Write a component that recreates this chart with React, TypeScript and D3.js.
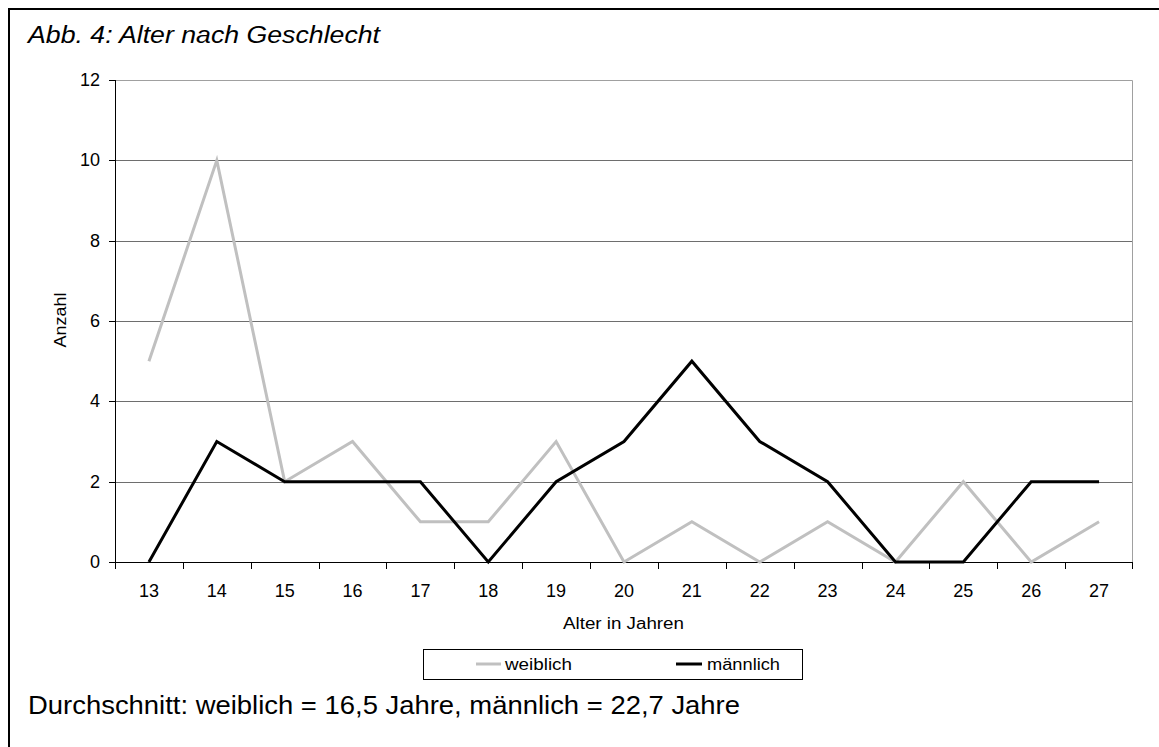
import React from "react";
import * as d3 from "d3";

const ages = ["13","14","15","16","17","18","19","20","21","22","23","24","25","26","27"];
const weiblich = [5,10,2,3,1,1,3,0,1,0,1,0,2,0,1];
const maennlich = [0,3,2,2,2,0,2,3,5,3,2,0,0,2,2];
const yTicks = [0,2,4,6,8,10,12];

const W = 1159, H = 747;
const left = 115, right = 1133, top = 80, bottom = 562;

export default function App() {
  const x = d3.scaleBand<string>().domain(ages).range([left, right]).padding(0);
  const y = d3.scaleLinear().domain([0, 12]).range([bottom, top]);
  const cx = (a: string) => (x(a) as number) + x.bandwidth() / 2;
  const line = d3.line<number>().x((_, i) => cx(ages[i])).y((d) => y(d));
  const font = "Liberation Sans, Arial, sans-serif";
  return (
    <svg width={W} height={H} style={{ position: "absolute", left: 0, top: 0 }} fontFamily={font}>
      <rect x={0} y={0} width={W} height={H} fill="#fff" />
      <path d={`M9,${H} V9 H${W}`} fill="none" stroke="#000" strokeWidth={2} />
      <text x={28} y={43} fontSize={23} fontStyle="italic" textLength={352} lengthAdjust="spacingAndGlyphs">Abb. 4: Alter nach Geschlecht</text>
      {yTicks.filter((t) => t > 0 && t < 12).map((t) => (
        <line key={t} x1={left} x2={right} y1={Math.round(y(t)) + 0.5} y2={Math.round(y(t)) + 0.5} stroke="#6e6e6e" strokeWidth={1} />
      ))}
      <path d={`M${left},${top + 0.5} H${right - 0.5} V${bottom}`} fill="none" stroke="#a0a0a0" strokeWidth={1} />
      <line x1={left + 0.5} x2={left + 0.5} y1={top} y2={bottom} stroke="#000" />
      {yTicks.map((t) => (
        <g key={t}>
          <line x1={left - 6} x2={left} y1={Math.round(y(t)) + 0.5} y2={Math.round(y(t)) + 0.5} stroke="#000" />
          <text x={100} y={y(t) + 6} fontSize={18} textAnchor="end">{t}</text>
        </g>
      ))}
      <line x1={left} x2={right} y1={bottom + 0.5} y2={bottom + 0.5} stroke="#000" />
      {ages.map((a) => (
        <line key={"t" + a} x1={Math.round(x(a) as number) + 0.5} x2={Math.round(x(a) as number) + 0.5} y1={bottom} y2={bottom + 7} stroke="#000" />
      ))}
      <line x1={right - 0.5} x2={right - 0.5} y1={bottom} y2={bottom + 7} stroke="#000" />
      {ages.map((a) => (
        <text key={"l" + a} x={cx(a)} y={597} fontSize={18} textAnchor="middle">{a}</text>
      ))}
      <text x={563} y={629} fontSize={16} textLength={121} lengthAdjust="spacingAndGlyphs">Alter in Jahren</text>
      <text transform={`translate(66,320) rotate(-90)`} fontSize={16} textAnchor="middle" textLength={55} lengthAdjust="spacingAndGlyphs">Anzahl</text>
      <path d={line(weiblich) || ""} fill="none" stroke="#c0c0c0" strokeWidth={3} strokeLinejoin="miter" />
      <path d={line(maennlich) || ""} fill="none" stroke="#000" strokeWidth={3} strokeLinejoin="miter" />
      <rect x={423.5} y={649.5} width={379} height={30} fill="#fff" stroke="#000" />
      <line x1={476} x2={501} y1={664} y2={664} stroke="#c0c0c0" strokeWidth={3} />
      <text x={505} y={670} fontSize={16} textLength={67} lengthAdjust="spacingAndGlyphs">weiblich</text>
      <line x1={676} x2={702} y1={664} y2={664} stroke="#000" strokeWidth={3} />
      <text x={707} y={670} fontSize={16} textLength={73} lengthAdjust="spacingAndGlyphs">männlich</text>
      <text x={28} y={714} fontSize={25} textLength={712} lengthAdjust="spacingAndGlyphs">Durchschnitt: weiblich = 16,5 Jahre, männlich = 22,7 Jahre</text>
    </svg>
  );
}
